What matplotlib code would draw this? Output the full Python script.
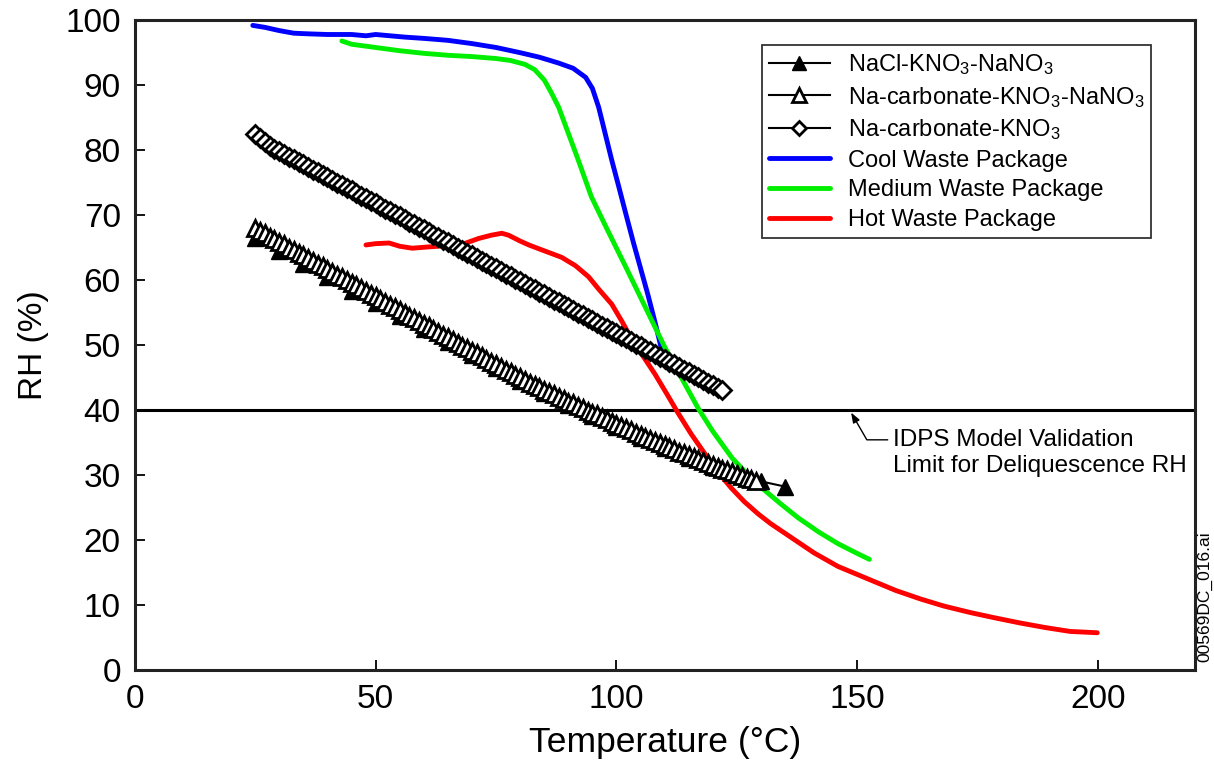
import matplotlib
matplotlib.use('Agg')
import matplotlib.pyplot as plt

plt.rcParams['font.family'] = ['Liberation Sans', 'DejaVu Sans']
plt.rcParams['mathtext.fontset'] = 'custom'
plt.rcParams['mathtext.rm'] = 'Liberation Sans'
plt.rcParams['mathtext.it'] = 'Liberation Sans:italic'

# NaCl-KNO3-NaNO3 (every 5 C)
nacl_t = [25, 30, 35, 40, 45, 50, 55, 60, 65, 70, 75, 80, 85, 90, 95, 100,
          105, 110, 115, 120, 125, 130, 135]
nacl_rh = [66.4, 64.4, 62.4, 60.4, 58.3, 56.4, 54.4, 52.4, 50.4, 48.4, 46.5, 44.4,
           42.6, 40.8, 39.0, 37.3, 35.7, 34.1, 32.6, 31.2, 30.0, 29.0, 28.2]

# Na-carbonate-KNO3-NaNO3 (every 1 C, 25..129)
nacarb3_t = list(range(25, 130))
nacarb3_rh = [68.0, 67.6, 67.2, 66.7, 66.3, 65.9, 65.5, 65.0, 64.6, 64.2, 63.8,
              63.4, 62.9, 62.5, 62.1, 61.7, 61.3, 60.8, 60.4, 60.0, 59.6,
              59.2, 58.7, 58.3, 57.9, 57.5, 57.1, 56.6, 56.2, 55.8, 55.4,
              55.0, 54.5, 54.1, 53.7, 53.3, 52.9, 52.4, 52.0, 51.6, 51.2,
              50.8, 50.3, 49.9, 49.5, 49.1, 48.7, 48.3, 47.8, 47.4, 47.0,
              46.6, 46.2, 45.8, 45.4, 45.0, 44.6, 44.2, 43.9, 43.5, 43.1,
              42.7, 42.4, 42.0, 41.7, 41.3, 41.0, 40.6, 40.3, 39.9, 39.6,
              39.3, 38.9, 38.6, 38.2, 37.9, 37.6, 37.2, 36.9, 36.5, 36.2,
              35.9, 35.6, 35.2, 34.9, 34.6, 34.3, 34.0, 33.6, 33.3, 33.0,
              32.7, 32.4, 32.1, 31.8, 31.5, 31.2, 30.9, 30.7, 30.4, 30.1,
              29.8, 29.6, 29.3, 29.1]

# Na-carbonate-KNO3 (every 1 C, 25..122)
nacarb2_t = list(range(25, 123))
nacarb2_rh = [82.5, 81.8, 81.2, 80.7, 80.2, 79.8, 79.4, 79.0, 78.6, 78.2, 77.8,
              77.4, 77.0, 76.6, 76.2, 75.8, 75.4, 75.0, 74.6, 74.2, 73.8,
              73.4, 73.0, 72.6, 72.2, 71.8, 71.4, 71.0, 70.6, 70.2, 69.8,
              69.4, 69.0, 68.6, 68.2, 67.8, 67.4, 67.0, 66.6, 66.2, 65.8,
              65.4, 65.0, 64.6, 64.2, 63.8, 63.4, 63.0, 62.6, 62.2, 61.8,
              61.4, 61.0, 60.6, 60.2, 59.8, 59.4, 59.0, 58.6, 58.2, 57.8,
              57.4, 57.0, 56.6, 56.2, 55.8, 55.4, 55.0, 54.6, 54.2, 53.8,
              53.4, 53.0, 52.6, 52.2, 51.8, 51.4, 51.0, 50.6, 50.2, 49.8,
              49.4, 49.0, 48.6, 48.2, 47.8, 47.4, 47.0, 46.6, 46.2, 45.8,
              45.4, 45.0, 44.6, 44.2, 43.8, 43.4, 43.0]

cool_t = [24.5, 27, 30, 33, 36, 40, 45, 48, 50, 53, 56, 60, 65, 70, 75, 80, 84, 88,
          91, 93.6, 95, 96.3, 97.5, 99, 100.5, 101.9, 103.5, 105, 106.5, 108, 109.3, 110]
cool_rh = [99.2, 98.9, 98.4, 98.0, 97.9, 97.8, 97.8, 97.6, 97.8, 97.6, 97.4, 97.2,
           96.9, 96.4, 95.8, 95.0, 94.3, 93.4, 92.6, 91.2, 89.5, 86.6, 83.0, 78.5,
           74.3, 70.3, 65.8, 61.8, 57.8, 53.5, 49.5, 48.0]

medium_t = [43, 45, 48, 50, 55, 60, 65, 70, 75, 78, 81, 83, 85, 86.5, 88, 90, 92,
            94.8, 98, 102, 106, 110, 113, 117, 120, 124, 127.3, 130, 134, 137.7,
            142, 146, 150, 152.5]
medium_rh = [96.8, 96.3, 96.0, 95.8, 95.3, 94.9, 94.6, 94.4, 94.1, 93.8, 93.2, 92.4,
             90.8, 88.8, 86.6, 82.6, 78.6, 72.8, 67.9, 61.9, 55.8, 49.7, 45.6, 40.2,
             36.7, 32.6, 30.0, 28.1, 25.6, 23.4, 21.2, 19.4, 17.9, 17.0]

hot_t = [48, 50, 52.8, 55, 57.6, 61, 65, 68, 71.4, 74, 76.2, 77.6, 80, 81.8, 85,
         88.6, 91.5, 94.2, 96.3, 99, 101, 103.1, 105.5, 108, 110.5, 112.8, 115.5,
         118.4, 121, 123.8, 126.5, 129.4, 132, 135, 138, 141, 146, 152.8, 158,
         163.1, 168, 173.5, 178.5, 183.8, 189, 194.2, 199.8]
hot_rh = [65.4, 65.6, 65.7, 65.2, 64.9, 65.1, 65.3, 65.5, 66.4, 66.9, 67.2, 66.9,
          66.0, 65.4, 64.5, 63.5, 62.2, 60.5, 58.6, 56.3, 53.8, 51.0, 48.3, 45.5,
          42.4, 39.5, 36.3, 33.2, 30.5, 28.0, 25.9, 24.0, 22.5, 21.0, 19.5, 18.0,
          15.9, 13.8, 12.2, 10.9, 9.8, 8.8, 8.0, 7.2, 6.5, 5.9, 5.7]

limit_rh = 40

fig = plt.figure(figsize=(12.14, 7.77), dpi=100)
ax = fig.add_axes([0.111, 0.138, 0.873, 0.836])

ax.plot(nacl_t, nacl_rh, color='black', lw=1.5, marker='^', markersize=12,
        markerfacecolor='black', markeredgecolor='black', zorder=3,
        label='NaCl-KNO$_3$-NaNO$_3$')
ax.plot(nacarb3_t, nacarb3_rh, color='black', lw=1.5, marker='^', markersize=11.5,
        markerfacecolor='white', markeredgecolor='black', markeredgewidth=2.0,
        zorder=4, label='Na-carbonate-KNO$_3$-NaNO$_3$')
ax.plot(nacarb2_t, nacarb2_rh, color='black', lw=1.5, marker='D', markersize=9,
        markerfacecolor='white', markeredgecolor='black', markeredgewidth=2.0,
        zorder=4, label='Na-carbonate-KNO$_3$')
ax.plot(cool_t, cool_rh, color='#0000ff', lw=3.5, solid_capstyle='round',
        zorder=2, label='Cool Waste Package')
ax.plot(medium_t, medium_rh, color='#00ee00', lw=3.5, solid_capstyle='round',
        zorder=2, label='Medium Waste Package')
ax.plot(hot_t, hot_rh, color='#ff0000', lw=3.5, solid_capstyle='round',
        zorder=2, label='Hot Waste Package')

ax.axhline(limit_rh, color='black', lw=2.2, zorder=1)

ax.text(157.3, 37.1, 'IDPS Model Validation\nLimit for Deliquescence RH',
        fontsize=17.5, ha='left', va='top', linespacing=1.25)
ax.annotate('', xy=(148.7, 39.6), xytext=(156.3, 35.4),
            arrowprops=dict(arrowstyle='-|>,head_length=0.6,head_width=0.22',
                            color='black', lw=1.0,
                            connectionstyle='angle,angleA=0,angleB=120,rad=0',
                            shrinkA=0, shrinkB=0))

ax.set_xlim(0, 220)
ax.set_ylim(0, 100)
ax.set_xticks([0, 50, 100, 150, 200])
ax.set_yticks(range(0, 101, 10))
ax.tick_params(direction='in', length=7, width=1.3, labelsize=24, pad=10)
for s in ax.spines.values():
    s.set_linewidth(2.2)
    s.set_color('#222222')
ax.set_xlabel('Temperature (°C)', fontsize=25.5, labelpad=8)
ax.set_ylabel('RH (%)', fontsize=24, labelpad=12)

leg = ax.legend(loc='upper left', bbox_to_anchor=(0.5915, 0.9615), borderaxespad=0,
                fontsize=17, fancybox=False, edgecolor='#333333', framealpha=1,
                handlelength=2.6, handletextpad=0.75, labelspacing=0.32,
                borderpad=0.3, numpoints=1)
leg.get_frame().set_linewidth(1.3)
for h in leg.legend_handles[:3]:
    h.set_markersize(10 if h.get_marker() != 'D' else 7.5)

fig.text(0.9925, 0.232, '00569DC_016.ai', rotation=90, fontsize=12.5,
         ha='center', va='center')

fig.savefig('out.png', dpi=100)
